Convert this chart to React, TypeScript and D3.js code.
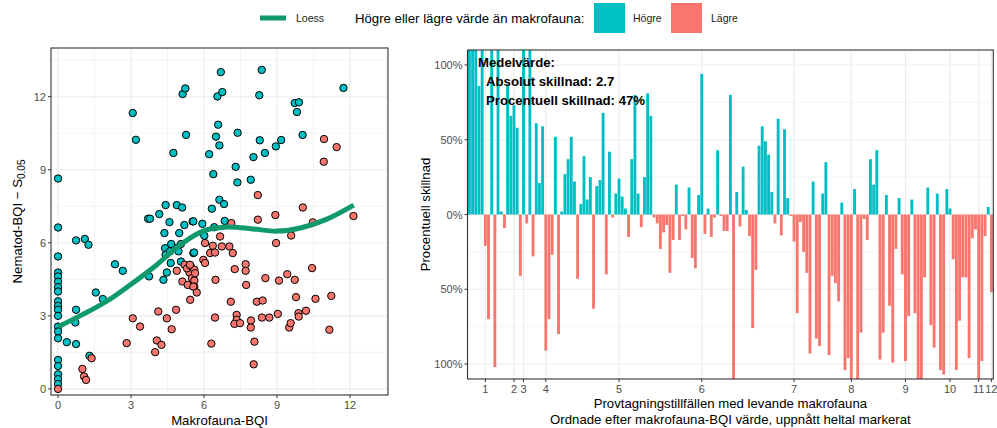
import React from 'react'
import * as d3 from 'd3'

const W = 997
const H = 428
const HIGH = '#00BFC4'
const LOW = '#F8766D'
const LOESS_COL = '#0F996C'
const FONT = 'Liberation Sans, Arial, Helvetica, sans-serif'

// left panel: one point per sampling occasion
const makroBQI = [
  0, 0, 0, 0, 0, 0, 0, 0, 0, 0, 0, 0, 0, 0, 0, 0, 0, 0, 0, 0, 0,
  0.36, 0.74, 0.71, 0.74, 0.74, 1.1, 1.25, 1.29, 1.55, 1.84, 2.34, 2.66, 3.07, 3.2, 3.74, 3.7, 3.78,
  4.16, 4.42, 4.88, 5.1, 4.58, 5.19, 5.53, 4.37, 4.98, 4.74, 5.12, 5.23, 5.26, 4.33, 4.47, 4.63,
  4.4, 4.42, 4.65, 4.9, 5.05, 4.6, 4.95, 5.05, 6.69, 8.37, 11.73, 6.55, 6.75, 8.27, 9.73, 9.9,
  9.82, 6.58, 6.49, 6.63, 7.38, 8.29, 9.17, 8.95, 8.5, 8.03, 10.05, 6.21, 7.3, 6.38, 7.37, 7.92,
  6.63, 6.82, 6.32, 5.56, 5.93, 6.85, 6.42, 6.01,
  1.38, 1.0, 1.07, 1.15, 3.07, 3.37, 2.82, 4.12, 4.47, 4.85, 4.67, 4.06, 4.25, 3.99, 4.88, 5.11,
  5.33, 5.4, 5.2, 5.3, 5.45, 5.6, 5.5, 5.6, 5.6, 5.43, 5.56, 10.93, 11.45, 10.92, 8.21, 10.06,
  8.93, 8.21, 12.14, 10.47, 9.58, 7.12, 6.66, 8.96, 6.04, 6.36, 6.73, 7.04, 7.18, 6.25, 6.45,
  5.97, 6.04, 5.59, 7.71, 7.71, 7.26, 7.73, 6.47, 8.52, 9.08, 9.42, 9.73, 10.44, 5.42, 5.63,
  5.56, 5.7, 7.1, 8.17, 8.41, 9.78, 10.58, 11.23, 10.19, 9.88, 9.89, 9.03, 8.68, 8.38, 7.93,
  7.34, 7.34, 7.25, 7.48, 6.45, 7.92, 9.5, 9.56, 11.15, 6.3, 8.07, 8.04
]
const nematodBQI = [
  8.64, 6.63, 5.44, 4.78, 4.62, 4.4, 4.18, 4.0, 3.6, 3.41, 3.25, 3.0, 2.56, 2.36, 2.08, 1.19, 0.94, 0.6, 0.4, 0.2, 0.0,
  1.92, 1.84, 2.73, 3.25, 6.1, 6.16, 5.92, 1.36, 3.96, 3.69, 5.12, 4.85, 11.33, 10.23, 4.62, 6.99, 6.99,
  7.18, 7.55, 7.55, 7.45, 6.85, 6.73, 6.88, 6.4, 6.4, 9.69, 12.11, 12.34, 10.43, 4.48, 4.78, 5.17,
  5.78, 5.51, 5.95, 5.8, 5.95, 5.65, 5.65, 5.23, 13.01, 13.1, 12.36, 12.01, 12.19, 12.06, 11.74, 11.77,
  11.37, 10.85, 10.36, 10.0, 10.52, 10.21, 10.22, 9.96, 9.69, 9.52, 10.43, 9.64, 9.12, 8.82, 8.48, 8.59,
  7.77, 7.59, 7.4, 6.88, 6.78, 6.9, 6.64, 6.29,
  1.26, 0.82, 0.51, 0.37, 2.9, 2.56, 1.88, 3.18, 2.9, 3.25, 2.45, 1.99, 1.81, 1.51, 4.85, 4.41,
  4.27, 4.78, 5.1, 4.95, 5.05, 4.9, 4.55, 4.45, 4.2, 3.66, 5.58, 10.26, 9.93, 9.33, 7.96, 7.45,
  7.14, 6.95, 7.1, 6.84, 6.3, 6.81, 6.26, 5.99, 5.99, 5.88, 5.85, 5.85, 5.58, 5.58, 5.6,
  5.3, 5.17, 5.6, 5.12, 4.85, 4.92, 4.27, 4.48, 4.55, 4.45, 4.71, 4.48, 4.96, 5.1, 4.75,
  4.2, 3.96, 3.58, 3.58, 3.63, 3.77, 3.7, 3.82, 3.21, 3.11, 2.97, 3.08, 2.93, 2.93, 2.81,
  3.04, 2.84, 2.67, 2.7, 2.93, 2.52, 2.52, 2.7, 2.43, 1.86, 1.94, 1.01
]

// loess smoother
const loessX = [0, 1, 2, 3, 4, 5, 6, 7, 8, 9, 10, 11, 12.15]
const loessY = [2.55, 3.05, 3.6, 4.3, 5.05, 5.9, 6.5, 6.65, 6.57, 6.48, 6.62, 6.95, 7.55]

// right panel: percentage difference, sorted by makrofauna-BQI
const pctDiff = [
  130, 130, 130, 86, 130, -21, -70, 130, -102, 130, 2, -9, 87, 66, 73, 58, -41, 130, -6, 130,
  -28, 61, 21, 59, -91, -70, -27, 52, -80, 2, 27, 37, 52, 22, -43, 7, 39, 10, 25, -63,
  19, 23, 68, -40, 42, -2, 14, 24, 12, 4, -15, 37, 80, 14, -8.5, 25, 81, 66, -2, -6,
  -23, -12, -7, -39, -17, 20, -17, -1, -10, 18, -29, -36, 13, 94, -13, 4, -15, -2, 43, -1,
  -11, -11, 80, -115, 15, -8, 32, 3, -14.5, -76, -37, 46, 59, 49, 40, 15, -6, 64, -14, 57,
  11, -1, -18, -66, -5, -25, -39, -93, 22, -83, -88, 14, 35, -94, -41, -46, -58, 8, -104, -96,
  -115, 17, -115, -79, -3, -17, 37, 20, 43, -97, -79, 13, -61, -99, -23, 11, -40, -98, -68, 10,
  -66, -115, -115, -42, 18, -74, -89, 14, -104, -107, 17, 4, -30, -104, -71, -42, -42, -96, -16, -10,
  -115, -98, -14.5, 5, -52
]
// bar index where each whole BQI value is first reached
const bqiTickIndex = [6, 15, 18, 25, 48, 74, 103, 121, 138, 152, 161, 165]
const bqiTickLabel = ['1', '2', '3', '4', '5', '6', '7', '8', '9', '10', '11', '12']

const meanLines = ['Medelvärde:', 'Absolut skillnad: 2.7', 'Procentuell skillnad: 47%']

const LP = { x0: 51, x1: 388, y0: 48, y1: 395 }
const RP = { x0: 467.5, x1: 993.3, y0: 50, y1: 379 }

export default function App() {
  const x = d3.scaleLinear().domain([-0.29, 13.56]).range([LP.x0, LP.x1])
  const y = d3.scaleLinear().domain([-0.25, 14.0]).range([LP.y1, LP.y0])
  const majors = [0, 3, 6, 9, 12]
  const minors = [1.5, 4.5, 7.5, 10.5, 13.5]

  const line = d3.line<number>()
    .x((d, i) => x(loessX[i]))
    .y((d) => y(d))
    .curve(d3.curveCatmullRom)

  const idx = pctDiff.map((d, i) => i + 1)
  const bx = d3.scaleBand<number>().domain(idx).range([RP.x0, RP.x1]).paddingInner(0.1).paddingOuter(0.15)
  const by = d3.scaleLinear().domain([-110, 110]).range([RP.y1, RP.y0])
  const pMajor = [-100, -50, 0, 50, 100]
  const pMinor = [-75, -25, 25, 75]
  const cx = (i: number) => (bx(i) as number) + bx.bandwidth() / 2

  const pts = makroBQI.map((mx, i) => ({ mx, ny: nematodBQI[i], hi: nematodBQI[i] > mx }))

  return (
    <svg width={W} height={H} viewBox={`0 0 ${W} ${H}`} style={{ position: 'absolute', left: 0, top: 0, background: '#fff' }} fontFamily={FONT}>
      <defs>
        <clipPath id="lclip"><rect x={LP.x0} y={LP.y0} width={LP.x1 - LP.x0} height={LP.y1 - LP.y0} /></clipPath>
        <clipPath id="rclip"><rect x={RP.x0} y={RP.y0} width={RP.x1 - RP.x0} height={RP.y1 - RP.y0} /></clipPath>
      </defs>

      {/* legend */}
      <g>
        <line x1={260} x2={286} y1={18} y2={18} stroke={LOESS_COL} strokeWidth={5} />
        <text x={296} y={22} fontSize={10.5} fill="#1a1a1a">Loess</text>
        <text x={355} y={23} fontSize={13.2} fill="#000">Högre eller lägre värde än makrofauna:</text>
        <rect x={594} y={3} width={31} height={30} fill={HIGH} />
        <text x={633} y={22} fontSize={10.5} fill="#1a1a1a">Högre</text>
        <rect x={671} y={3} width={31} height={30} fill={LOW} />
        <text x={711} y={22} fontSize={10.5} fill="#1a1a1a">Lägre</text>
      </g>

      {/* left panel */}
      <g>
        {minors.map((v) => (
          <g key={'m' + v}>
            <line x1={x(v)} x2={x(v)} y1={LP.y0} y2={LP.y1} stroke="#EBEBEB" strokeWidth={0.6} />
            <line y1={y(v)} y2={y(v)} x1={LP.x0} x2={LP.x1} stroke="#EBEBEB" strokeWidth={0.6} />
          </g>
        ))}
        {majors.map((v) => (
          <g key={'M' + v}>
            <line x1={x(v)} x2={x(v)} y1={LP.y0} y2={LP.y1} stroke="#EBEBEB" strokeWidth={1.1} />
            <line y1={y(v)} y2={y(v)} x1={LP.x0} x2={LP.x1} stroke="#EBEBEB" strokeWidth={1.1} />
          </g>
        ))}
        <g clipPath="url(#lclip)">
          {pts.map((p, i) => (
            <circle key={i} cx={x(p.mx)} cy={y(p.ny)} r={3.7} fill={p.hi ? HIGH : LOW} stroke="#000" strokeWidth={1} />
          ))}
          <path d={line(loessY) || ''} fill="none" stroke={LOESS_COL} strokeWidth={5} strokeLinecap="butt" />
        </g>
        <rect x={LP.x0} y={LP.y0} width={LP.x1 - LP.x0} height={LP.y1 - LP.y0} fill="none" stroke="#333" strokeWidth={1.1} />
        {majors.map((v) => (
          <g key={'t' + v}>
            <line x1={x(v)} x2={x(v)} y1={LP.y1} y2={LP.y1 + 3} stroke="#333" />
            <text x={x(v)} y={LP.y1 + 14} textAnchor="middle" fontSize={11} fill="#4D4D4D">{v}</text>
            <line x1={LP.x0 - 3} x2={LP.x0} y1={y(v)} y2={y(v)} stroke="#333" />
            <text x={LP.x0 - 5} y={y(v) + 4} textAnchor="end" fontSize={11} fill="#4D4D4D">{v}</text>
          </g>
        ))}
        <text x={(LP.x0 + LP.x1) / 2} y={425} textAnchor="middle" fontSize={13.2} fill="#000">Makrofauna-BQI</text>
        <text transform={`translate(22,${(LP.y0 + LP.y1) / 2}) rotate(-90)`} textAnchor="middle" fontSize={13.2} fill="#000">
          Nematod-BQI − S<tspan fontSize={10} dy={3}>0.05</tspan>
        </text>
      </g>

      {/* right panel */}
      <g>
        {pMinor.map((v) => (
          <line key={'pm' + v} x1={RP.x0} x2={RP.x1} y1={by(v)} y2={by(v)} stroke="#EBEBEB" strokeWidth={0.6} />
        ))}
        {pMajor.map((v) => (
          <line key={'pM' + v} x1={RP.x0} x2={RP.x1} y1={by(v)} y2={by(v)} stroke="#EBEBEB" strokeWidth={1.1} />
        ))}
        {bqiTickIndex.map((i) => (
          <line key={'vx' + i} x1={cx(i)} x2={cx(i)} y1={RP.y0} y2={RP.y1} stroke="#EBEBEB" strokeWidth={1.1} />
        ))}
        <g clipPath="url(#rclip)">
          {pctDiff.map((v, k) => (
            <rect key={k} x={bx(k + 1)} width={bx.bandwidth()}
              y={by(Math.max(0, v))} height={Math.abs(by(v) - by(0))}
              fill={v > 0 ? HIGH : LOW} />
          ))}
        </g>
        <rect x={RP.x0} y={RP.y0} width={RP.x1 - RP.x0} height={RP.y1 - RP.y0} fill="none" stroke="#333" strokeWidth={1.1} />
        {pMajor.map((v) => (
          <g key={'pt' + v}>
            <line x1={RP.x0 - 3} x2={RP.x0} y1={by(v)} y2={by(v)} stroke="#333" />
            <text x={RP.x0 - 5} y={by(v) + 4} textAnchor="end" fontSize={11} fill="#4D4D4D">{Math.abs(v) + '%'}</text>
          </g>
        ))}
        {bqiTickIndex.map((i, k) => (
          <g key={'bt' + i}>
            <line x1={cx(i)} x2={cx(i)} y1={RP.y1} y2={RP.y1 + 3} stroke="#333" />
            <text x={cx(i)} y={RP.y1 + 14} textAnchor="middle" fontSize={11} fill="#4D4D4D">{bqiTickLabel[k]}</text>
          </g>
        ))}
        <text transform={`translate(430,${(RP.y0 + RP.y1) / 2}) rotate(-90)`} textAnchor="middle" fontSize={13.2} fill="#000">Procentuell skillnad</text>
        <text x={(RP.x0 + RP.x1) / 2} y={408} textAnchor="middle" fontSize={13.2} fill="#000">Provtagningstillfällen med levande makrofauna</text>
        <text x={(RP.x0 + RP.x1) / 2} y={424} textAnchor="middle" fontSize={13.2} fill="#000">Ordnade efter makrofauna-BQI värde, uppnått heltal markerat</text>
        {meanLines.map((t, k) => (
          <text key={t} x={k === 0 ? 478 : 486} y={67 + k * 19} fontSize={13.2} fontWeight="bold" fill="#000">{t}</text>
        ))}
      </g>
    </svg>
  )
}
